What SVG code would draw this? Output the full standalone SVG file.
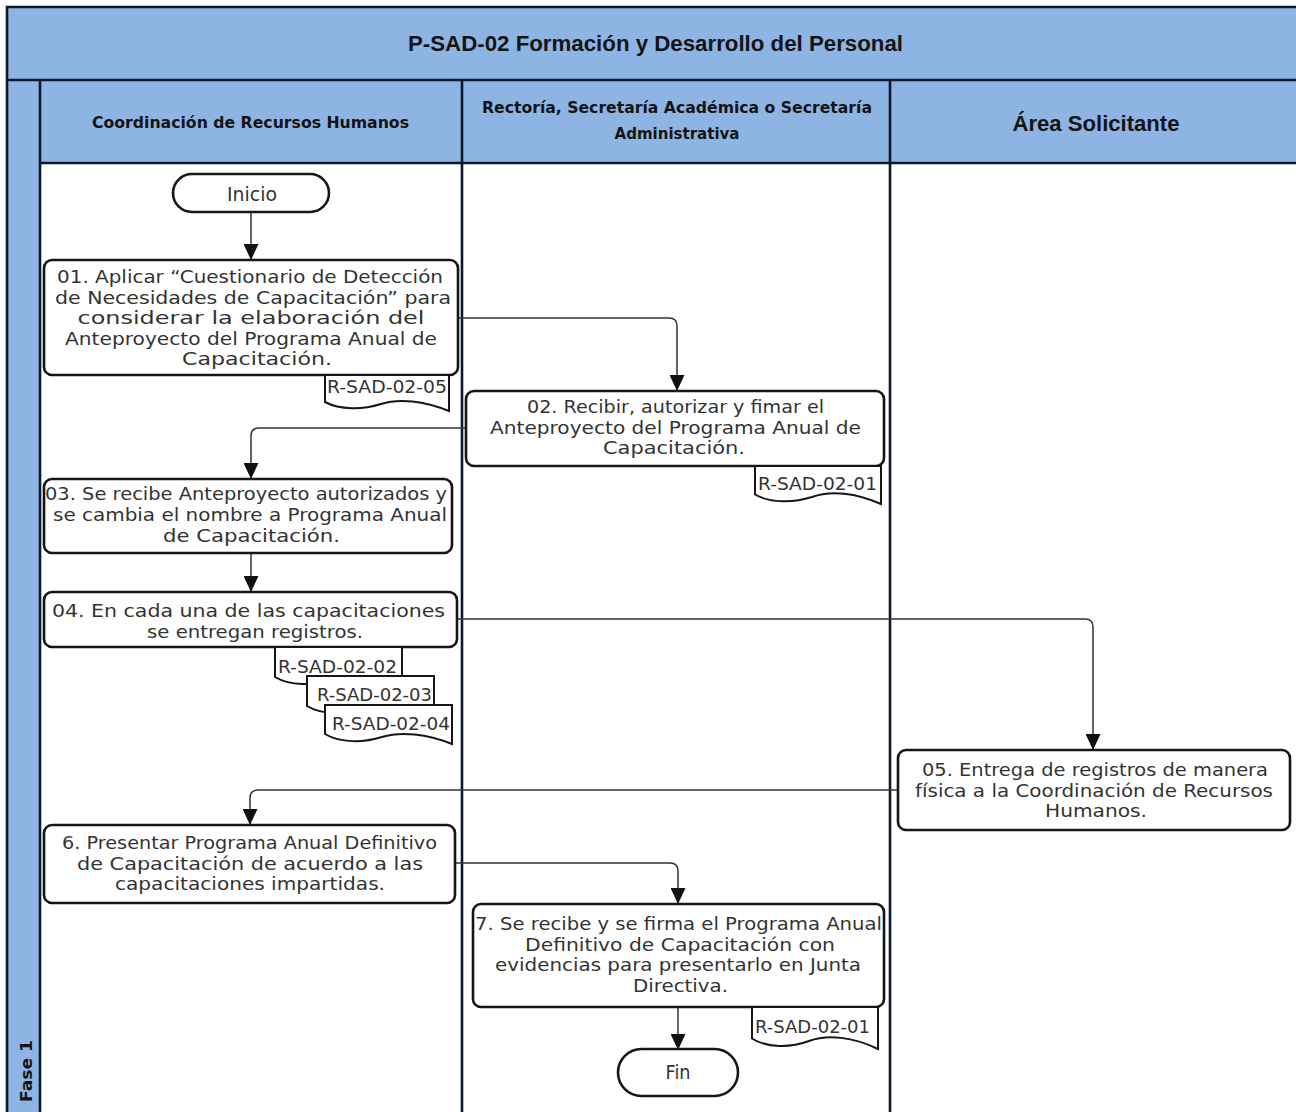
<svg xmlns="http://www.w3.org/2000/svg" width="1296" height="1112" viewBox="0 0 1296 1112">
<defs>
<style>
.band{fill:#8EB4E3;stroke:none}
.frame{stroke:#0d1830;stroke-width:2.6;fill:none}
.box{fill:#fff;stroke:#161616;stroke-width:2.6}
.doc{fill:#fff;stroke:#161616;stroke-width:2}
.t{font-family:"DejaVu Sans",sans-serif;font-size:17.5px;fill:#333;text-anchor:middle}
.d{font-family:"DejaVu Sans",sans-serif;font-size:18.5px;fill:#333;text-anchor:middle}
.h{font-family:"DejaVu Sans",sans-serif;font-size:15.5px;font-weight:bold;fill:#141414;text-anchor:middle}
.hb{font-family:"Liberation Sans",Arial,sans-serif;font-size:22px;font-weight:bold;fill:#141414;text-anchor:middle}
.conn path{fill:none;stroke:#333;stroke-width:1.5}
</style>
<marker id="arr" markerUnits="userSpaceOnUse" markerWidth="16" markerHeight="15" refX="16" refY="7.5" orient="auto">
<path d="M0,0 L16,7.5 L0,15 Z" fill="#111"/>
</marker>
</defs>
<rect x="0" y="0" width="1296" height="1112" fill="#fff"/>
<g id="pool">
<rect class="band" x="7" y="7" width="1295" height="73"/>
<rect class="band" x="40" y="80" width="1262" height="83"/>
<rect class="band" x="7" y="80" width="33" height="1040"/>
<path class="frame" d="M7,1120 V7 H1302 M7,80 H1302 M40,163 H1302 M40,80 V1120 M462,80 V1120 M890,80 V1120"/>
<text class="hb" x="655.5" y="51" textLength="495" lengthAdjust="spacingAndGlyphs">P-SAD-02 Formación y Desarrollo del Personal</text>
<text class="h" x="250.5" y="128" textLength="317" lengthAdjust="spacingAndGlyphs">Coordinación de Recursos Humanos</text>
<text class="h" x="677" y="113" textLength="390" lengthAdjust="spacingAndGlyphs">Rectoría, Secretaría Académica o Secretaría</text>
<text class="h" x="677" y="139" textLength="125" lengthAdjust="spacingAndGlyphs">Administrativa</text>
<text class="hb" x="1096" y="131" textLength="167" lengthAdjust="spacingAndGlyphs">Área Solicitante</text>
<text class="h" transform="translate(31.5,1071) rotate(-90)" x="0" y="0" style="font-size:16px" textLength="62" lengthAdjust="spacingAndGlyphs">Fase 1</text>
</g>
<g id="connectors" class="conn">
<path d="M251,212 V260" marker-end="url(#arr)"/>
<path d="M458,318 H669 Q677,318 677,326 V391" marker-end="url(#arr)"/>
<path d="M466,428 H259 Q251,428 251,436 V479" marker-end="url(#arr)"/>
<path d="M251,553 V592" marker-end="url(#arr)"/>
<path d="M457,619 H1085 Q1093,619 1093,627 V750" marker-end="url(#arr)"/>
<path d="M898,790 H258 Q250,790 250,798 V825" marker-end="url(#arr)"/>
<path d="M455,863 H670 Q678,863 678,871 V904" marker-end="url(#arr)"/>
<path d="M678,1007 V1050" marker-end="url(#arr)"/>
</g>
<g id="inicio">
<rect class="box" x="173" y="174" width="156" height="38" rx="19"/>
<text class="t" x="252" y="201" style="font-size:19px" textLength="50" lengthAdjust="spacingAndGlyphs">Inicio</text>
</g>
<g id="n01">
<rect class="box" x="44" y="260" width="414" height="115" rx="8"/>
<text class="t" x="250" y="283" textLength="386" lengthAdjust="spacingAndGlyphs">01. Aplicar “Cuestionario de Detección</text>
<text class="t" x="253" y="303.5" textLength="396" lengthAdjust="spacingAndGlyphs">de Necesidades de Capacitación” para</text>
<text class="t" x="251" y="324" textLength="347" lengthAdjust="spacingAndGlyphs">considerar la elaboración del</text>
<text class="t" x="251" y="344.5" textLength="372" lengthAdjust="spacingAndGlyphs">Anteproyecto del Programa Anual de</text>
<text class="t" x="257" y="365" textLength="150" lengthAdjust="spacingAndGlyphs">Capacitación.</text>
</g>
<g id="doc05">
<path class="doc" d="M325,375 H449 V411 C424,401 399,398 381,404 C362,410 340,410 325,402 Z"/>
<text class="d" x="387" y="393" textLength="120" lengthAdjust="spacingAndGlyphs">R-SAD-02-05</text>
</g>
<g id="n02">
<rect class="box" x="466" y="391" width="418" height="75" rx="8"/>
<text class="t" x="675.5" y="413" textLength="297" lengthAdjust="spacingAndGlyphs">02. Recibir, autorizar y fimar el</text>
<text class="t" x="675.5" y="433.5" textLength="371" lengthAdjust="spacingAndGlyphs">Anteproyecto del Programa Anual de</text>
<text class="t" x="674" y="454" textLength="142" lengthAdjust="spacingAndGlyphs">Capacitación.</text>
</g>
<g id="doc01a">
<path class="doc" d="M755,466 H881 V504 C856,493 831,490 812,497 C793,503 770,503 755,494.5 Z"/>
<text class="d" x="817.5" y="490" textLength="119" lengthAdjust="spacingAndGlyphs">R-SAD-02-01</text>
</g>
<g id="n03">
<rect class="box" x="44" y="479" width="408" height="74" rx="8"/>
<text class="t" x="246" y="500" textLength="402" lengthAdjust="spacingAndGlyphs">03. Se recibe Anteproyecto autorizados y</text>
<text class="t" x="250" y="521" textLength="394" lengthAdjust="spacingAndGlyphs">se cambia el nombre a Programa Anual</text>
<text class="t" x="251.5" y="542" textLength="177" lengthAdjust="spacingAndGlyphs">de Capacitación.</text>
</g>
<g id="n04">
<rect class="box" x="44" y="592" width="413" height="55" rx="8"/>
<text class="t" x="248.5" y="616.5" textLength="393" lengthAdjust="spacingAndGlyphs">04. En cada una de las capacitaciones</text>
<text class="t" x="255" y="637.5" textLength="216" lengthAdjust="spacingAndGlyphs">se entregan registros.</text>
</g>
<g id="doc02">
<path class="doc" d="M275,647 H402 V687 C377,676 351,673 332,679 C313,686 290,686 275,677 Z"/>
<text class="d" x="337.5" y="673" textLength="119" lengthAdjust="spacingAndGlyphs">R-SAD-02-02</text>
</g>
<g id="doc03">
<path class="doc" d="M307,676 H434 V716 C409,705 383,702 364,708 C345,715 322,715 307,706 Z"/>
<text class="d" x="374.5" y="701" textLength="115" lengthAdjust="spacingAndGlyphs">R-SAD-02-03</text>
</g>
<g id="doc04">
<path class="doc" d="M325,705 H452 V744 C427,734 401,731 382,737 C363,743 340,743 325,734 Z"/>
<text class="d" x="391" y="730" textLength="118" lengthAdjust="spacingAndGlyphs">R-SAD-02-04</text>
</g>
<g id="n05">
<rect class="box" x="898" y="750" width="392" height="80" rx="8"/>
<text class="t" x="1095" y="776" textLength="346" lengthAdjust="spacingAndGlyphs">05. Entrega de registros de manera</text>
<text class="t" x="1094" y="796.5" textLength="358" lengthAdjust="spacingAndGlyphs">física a la Coordinación de Recursos</text>
<text class="t" x="1096" y="817" textLength="102" lengthAdjust="spacingAndGlyphs">Humanos.</text>
</g>
<g id="n06">
<rect class="box" x="44" y="825" width="411" height="78" rx="8"/>
<text class="t" x="249.5" y="849" textLength="375" lengthAdjust="spacingAndGlyphs">6. Presentar Programa Anual Definitivo</text>
<text class="t" x="250" y="869.5" textLength="346" lengthAdjust="spacingAndGlyphs">de Capacitación de acuerdo a las</text>
<text class="t" x="250" y="890" textLength="270" lengthAdjust="spacingAndGlyphs">capacitaciones impartidas.</text>
</g>
<g id="n07">
<rect class="box" x="473" y="904" width="411" height="103" rx="8"/>
<text class="t" x="678.5" y="930" textLength="407" lengthAdjust="spacingAndGlyphs">7. Se recibe y se firma el Programa Anual</text>
<text class="t" x="680" y="950.5" textLength="310" lengthAdjust="spacingAndGlyphs">Definitivo de Capacitación con</text>
<text class="t" x="678" y="971" textLength="366" lengthAdjust="spacingAndGlyphs">evidencias para presentarlo en Junta</text>
<text class="t" x="680.5" y="991.5" textLength="95" lengthAdjust="spacingAndGlyphs">Directiva.</text>
</g>
<g id="doc01b">
<path class="doc" d="M752,1007 H878 V1049 C853,1037 828,1034 809,1041 C790,1048 767,1048 752,1038.5 Z"/>
<text class="d" x="812.5" y="1033" textLength="115" lengthAdjust="spacingAndGlyphs">R-SAD-02-01</text>
</g>
<g id="fin">
<rect class="box" x="618" y="1049" width="120" height="47" rx="23.5"/>
<text class="t" x="678" y="1079" style="font-size:19px" textLength="25" lengthAdjust="spacingAndGlyphs">Fin</text>
</g>
</svg>
